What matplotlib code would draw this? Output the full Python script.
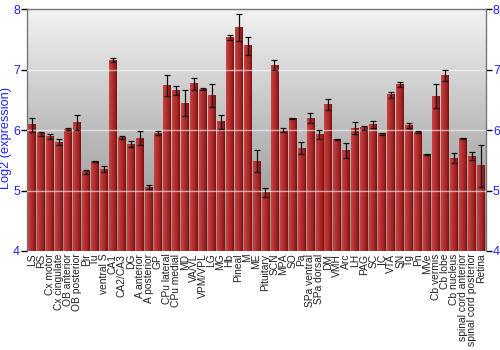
import numpy as np
import matplotlib
matplotlib.use("Agg")
import matplotlib.pyplot as plt
from matplotlib.colors import LinearSegmentedColormap

regions = ["LS", "RS", "Cx motor", "Cx cingulate", "OB anterior", "OB posterior", "Pir", "Tu",
           "ventral S", "CA1", "CA2/CA3", "DG", "A anterior", "A posterior", "GP", "CPu lateral",
           "CPu medial", "MD", "VA/VL", "VPM/VPL", "LG", "MG", "Hb", "Pineal", "M", "ME",
           "Pituitary", "SCN", "MPA", "SO", "Pa", "SPa ventral", "SPa dorsal", "DM", "VMH", "Arc",
           "LH", "PAG", "SC", "IC", "VTA", "SN", "Tg", "Pn", "MVe", "Cb vermis", "Cb lobe",
           "Cb nucleus", "spinal cord anterior", "spinal cord posterior", "Retina"]
expression = [6.09, 5.94, 5.89, 5.80, 6.02, 6.13, 5.31, 5.48, 5.35, 7.16, 5.88, 5.77, 5.87, 5.06,
              5.95, 6.74, 6.66, 6.45, 6.77, 6.68, 6.57, 6.14, 7.53, 7.70, 7.40, 5.49, 4.97, 7.08,
              6.00, 6.20, 5.70, 6.20, 5.93, 6.43, 5.85, 5.66, 6.03, 6.04, 6.09, 5.94, 6.59, 6.76,
              6.08, 5.97, 5.60, 6.56, 6.90, 5.54, 5.86, 5.57, 5.41]
errors = [0.12, 0.03, 0.04, 0.05, 0.02, 0.12, 0.03, 0.01, 0.05, 0.03, 0.03, 0.05, 0.11, 0.03,
          0.03, 0.18, 0.07, 0.21, 0.10, 0.02, 0.19, 0.12, 0.04, 0.23, 0.15, 0.18, 0.07, 0.09,
          0.03, 0.01, 0.10, 0.08, 0.08, 0.09, 0.01, 0.12, 0.10, 0.03, 0.06, 0.02, 0.05, 0.04,
          0.04, 0.01, 0.01, 0.20, 0.09, 0.08, 0.01, 0.07, 0.35]
yticks = [4, 5, 6, 7, 8]

plt.rcParams['font.family'] = ['Liberation Sans', 'DejaVu Sans']
fig = plt.figure(figsize=(5, 3.5), dpi=100)
ax = fig.add_axes([0.054, 0.283, 0.918, 0.690])

x = np.arange(len(regions))
ax.set_xlim(-0.55, len(regions) - 0.45)
ax.set_ylim(4, 8)

# background gradient
bg = LinearSegmentedColormap.from_list("bg", ["#8c8c8c", "#bcbcbc", "#f2f2f2"])
grad = np.linspace(0, 1, 256).reshape(-1, 1)
ax.imshow(grad, aspect='auto', cmap=bg, origin='lower',
          extent=[-0.55, len(regions) - 0.45, 4, 8], zorder=0)

# bars with horizontal gradient
w = 0.86
barcmap = LinearSegmentedColormap.from_list("bar", ["#c84444", "#b83232", "#a42525", "#7a1010"])
hgrad = np.linspace(0, 1, 64).reshape(1, -1)
bars = ax.bar(x, np.array(expression) - 4, bottom=4, width=w, color='none',
              edgecolor='none', zorder=2)
for b in bars:
    x0, y0 = b.get_x(), b.get_y()
    ax.imshow(hgrad, aspect='auto', cmap=barcmap, origin='lower',
              extent=[x0, x0 + b.get_width(), y0, y0 + b.get_height()], zorder=2)

ax.errorbar(x, expression, yerr=errors, fmt='none', ecolor='#111111', elinewidth=0.9,
            capsize=2.0, capthick=0.9, zorder=4)

for yv in [5, 6, 7]:
    ax.axhline(yv, color='white', lw=1.0, alpha=0.6, zorder=3)

ax.set_xticks(x)
ax.set_xticklabels(regions, rotation=90, fontsize=7.4, color='#222222')
ax.tick_params(axis='x', length=0, pad=2)
ax.set_yticks(yticks)
ax.tick_params(axis='y', labelsize=9, length=4, width=1, color='#000000',
               right=True, labelright=True, left=True, labelleft=True, pad=1)
for lab in ax.get_yticklabels():
    lab.set_color('#2222ff')
ax.set_ylabel("Log2 (expression)", color='#2222ff', fontsize=9.2, labelpad=0)
ax.yaxis.set_label_coords(-0.032, 0.47)

for s in ax.spines.values():
    s.set_color('#777777')
    s.set_linewidth(1)
ax.spines['bottom'].set_visible(False)

fig.savefig("out.png", dpi=100)
